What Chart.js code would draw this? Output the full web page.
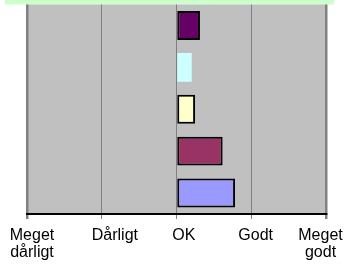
<!DOCTYPE html>
<html>
<head>
<meta charset="utf-8">
<script src="https://cdn.jsdelivr.net/npm/chart.js@4"></script>
<style>
html, body { margin: 0; padding: 0; background: #fff; }
</style>
</head>
<body>
<canvas id="chart" width="345" height="267"></canvas>
<script>
// data
const categories = ['1', '2', '3', '4', '5'];
const scores = [0.31, 0.2, 0.245, 0.613, 0.779];
const barColors = ['#660066', '#ccffff', '#ffffcc', '#993366', '#9999ff'];
const tickValues = [-2, -1, 0, 1, 2];
const tickLabels = [['Meget', 'dårligt'], ['Dårligt'], ['OK'], ['Godt'], ['Meget', 'godt']];

// small nudges so the labels sit like the original
const labelShift = [5, 13, 7, 4, -6];

const plotDecor = {
    id: 'plotDecor',
    beforeDraw(chart) {
        const { ctx, chartArea: a } = chart;
        ctx.save();
        ctx.fillStyle = '#ccffcc';
        ctx.fillRect(5, 0, 329, a.top);
        ctx.fillStyle = '#c0c0c0';
        ctx.fillRect(a.left, a.top, a.right - a.left, a.bottom - a.top);
        ctx.restore();
    },
    afterDraw(chart) {
        const { ctx } = chart;
        const xs = chart.scales.x;
        ctx.save();
        ctx.font = '16px "Liberation Sans", Arial, sans-serif';
        ctx.fillStyle = '#000';
        ctx.textAlign = 'center';
        ctx.textBaseline = 'alphabetic';
        tickValues.forEach((v, i) => {
            const px = xs.getPixelForValue(v) + labelShift[i];
            tickLabels[i].forEach((line, j) => ctx.fillText(line, px, xs.top + 26 + j * 17));
        });
        ctx.restore();
    }
};

new Chart(document.getElementById('chart'), {
    type: 'bar',
    data: {
        labels: categories,
        datasets: [{
            data: scores,
            backgroundColor: barColors,
            borderColor: '#000',
            borderWidth: [2, 0, 2, 2, 2],
            borderSkipped: false,
            barPercentage: 0.69,
            categoryPercentage: 1
        }]
    },
    options: {
        indexAxis: 'y',
        responsive: false,
        animation: false,
        layout: { padding: { left: 27, right: 18.5, top: 4.5, bottom: 0 } },
        plugins: { legend: { display: false }, tooltip: { enabled: false } },
        scales: {
            x: {
                type: 'linear',
                min: -2,
                max: 2,
                ticks: { stepSize: 1, display: false },
                grid: {
                    color: '#808080',
                    lineWidth: c => (c.index === 0 || c.index === 4) ? 2.5 : 1,
                    drawTicks: true,
                    tickLength: 5,
                    tickColor: '#808080'
                },
                border: { color: '#000', width: 2 },
                afterFit: s => { s.height = 53; s.paddingLeft = 0; s.paddingRight = 0; }
            },
            y: { display: false }
        }
    },
    plugins: [plotDecor]
});
</script>
</body>
</html>
